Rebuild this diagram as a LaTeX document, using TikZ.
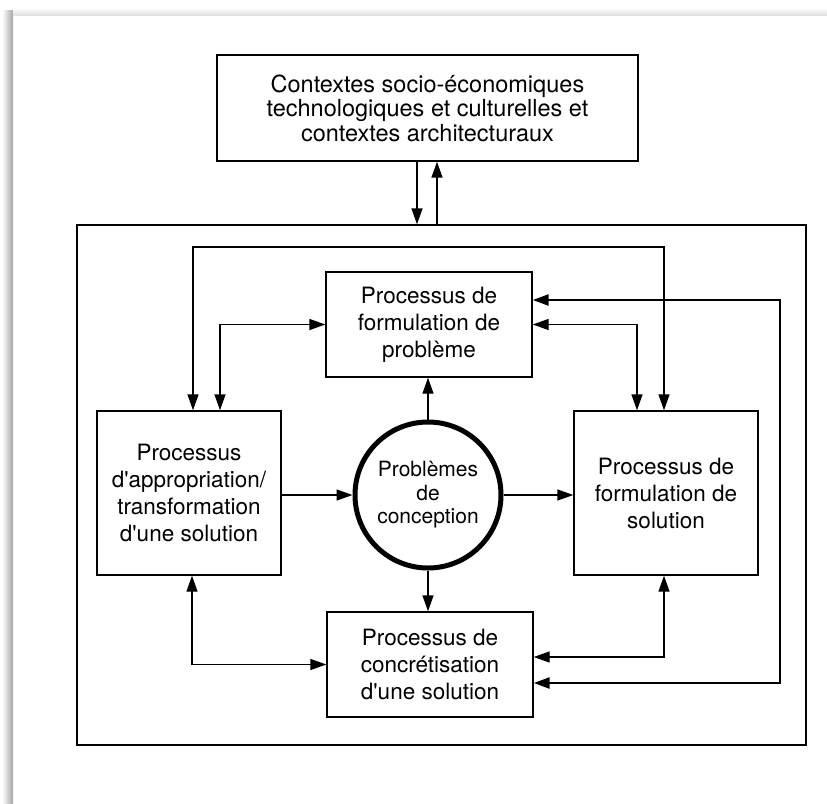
\documentclass[tikz,border=0pt]{standalone}
\usepackage{fontspec}
\setmainfont{TeX Gyre Heros}
\usetikzlibrary{arrows.meta}

\begin{document}
\begin{tikzpicture}[x=1pt, y=-1pt,
    every path/.style={line width=1.4pt},
    >={Triangle[length=16pt,width=11pt]},
    procbox/.style={draw, line width=1.4pt, align=center, inner sep=0pt,
        font=\fontsize{22.5}{27}\selectfont},
    pbcircle/.style={draw, circle, line width=5pt, minimum size=146pt, inner sep=0pt,
        align=center, font=\fontsize{21}{23.5}\selectfont}]
    \useasboundingbox (0,0) rectangle (827,803);

    % ombre de la page
    \shade[left color=white, right color=black!35] (2,10) rectangle (13,803);
    \shade[top color=white, bottom color=black!12] (13,8) rectangle (827,15);

    \node[procbox, minimum width=421pt, minimum height=106pt,
        font=\fontsize{23.5}{24.5}\selectfont] (ctx) at (427.5,108)
        {Contextes socio-économiques\\technologiques et culturelles et\\contextes architecturaux};

    \node[draw, line width=1.4pt, minimum width=729pt, minimum height=520pt] (cadre) at (441.5,485) {};

    \node[procbox, minimum width=206pt, minimum height=105pt] (prob) at (429,324.5)
        {Processus de\\formulation de\\problème};
    \node[procbox, minimum width=206pt, minimum height=105pt] (concr) at (430,664.5)
        {Processus de\\concrétisation\\d\textquotesingle une solution};
    \node[procbox, minimum width=184pt, minimum height=164pt] (appr) at (189,493)
        {Processus\\d\textquotesingle appropriation/\\transformation\\d\textquotesingle une solution};
    \node[procbox, minimum width=184pt, minimum height=164pt] (sol) at (666,493)
        {Processus de\\formulation de\\solution};

    \node[pbcircle] (pb) at (428,495) {Problèmes\\de\\conception};

    \draw[->] (ctx.south -| 417,0) -- (cadre.north -| 417,0);
    \draw[->] (cadre.north -| 437,0) -- (ctx.south -| 437,0);

    \draw[<->] (appr.north -| 193,0) -- (193,247) -- (664,247) -- (sol.north -| 664,0);
    \draw[<->] (appr.north -| 220,0) |- (prob.west);
    \draw[<->] (sol.north -| 637,0) |- (prob.east);

    \draw[->] (pb.north) -- (prob.south -| pb.north);
    \draw[->] (pb.south) -- (concr.north -| pb.south);
    \draw[->] (appr.east |- pb.west) -- (pb.west);
    \draw[->] (pb.east) -- (sol.west |- pb.east);

    \draw[<->] (appr.south -| 192,0) |- (concr.west);
    \draw[<->] (sol.south -| 664,0) |- (concr.east |- 0,657);

    \draw[<->, line width=2.6pt] (prob.east |- 0,300) -- (780,300) -- (780,683) -- (concr.east |- 0,683);

\end{tikzpicture}
\end{document}
